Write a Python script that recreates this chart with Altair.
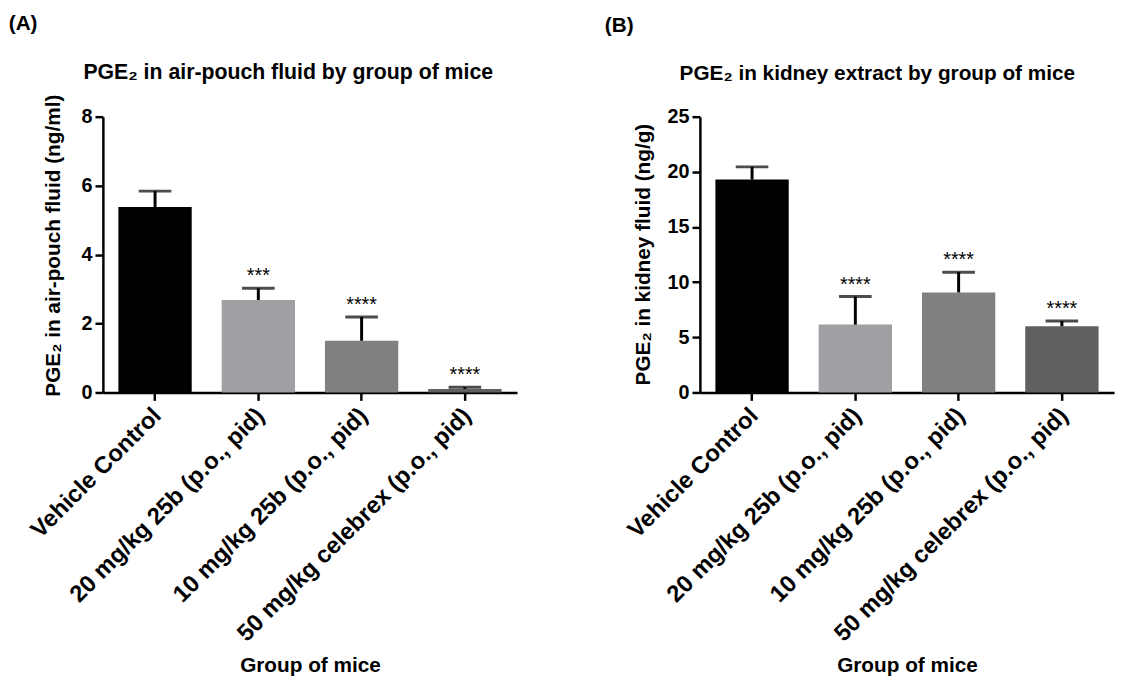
import altair as alt
import pandas as pd

groups = ["Vehicle Control", "20 mg/kg 25b (p.o., pid)", "10 mg/kg 25b (p.o., pid)", "50 mg/kg celebrex (p.o., pid)"]
bar_colors = ["#000000", "#A0A0A4", "#808080", "#606060"]

a_mean = [5.38, 2.68, 1.50, 0.10]
a_upper = [5.84, 3.02, 2.19, 0.15]
a_stars = ["", "***", "****", "****"]
a_ticks = [0, 2, 4, 6, 8]

b_mean = [19.3, 6.15, 9.07, 6.0]
b_upper = [20.45, 8.7, 10.9, 6.47]
b_stars = ["", "****", "****", "****"]
b_ticks = [0, 5, 10, 15, 20, 25]

FONT = "Liberation Sans"


def panel(mean, upper, stars, ticks, ytitle, title, label, title_dx, title_offset,
          title_size, label_dx, ytitle_y, ytitle_pad):
    df = pd.DataFrame({"group": groups, "mean": mean, "upper": upper,
                       "stars": stars, "color": bar_colors})
    base = alt.Chart(df)
    x = alt.X("group:N", sort=groups,
              scale=alt.Scale(paddingInner=0.29, paddingOuter=0.15),
              axis=alt.Axis(title="Group of mice", labelAngle=-45, labelAlign="right",
                            labelBaseline="top", labelFontSize=24, labelFontWeight="bold",
                            labelFont=FONT, labelColor="black", labelPadding=3,
                            labelOffset=-6,
                            titleFontSize=21, titleFontWeight="bold", titleFont=FONT,
                            titleColor="black", titleY=282, titleBaseline="alphabetic",
                            domainColor="black", domainWidth=2.5, tickColor="black",
                            tickWidth=2.5, tickSize=8, labelLimit=500))
    y_scale = alt.Scale(domain=[ticks[0], ticks[-1]], nice=False, zero=True)
    y_axis = alt.Axis(values=ticks, title=ytitle, labelFontSize=20, labelFontWeight="bold",
                      labelFont=FONT, labelColor="black", labelPadding=3,
                      titleFontSize=21, titleFontWeight="bold", titleFont=FONT,
                      titleColor="black", titlePadding=ytitle_pad, titleY=ytitle_y,
                      grid=False, domainColor="black", domainWidth=2.5, tickColor="black",
                      tickWidth=2.5, tickSize=8)
    bars = base.mark_bar().encode(
        x=x,
        y=alt.Y("mean:Q", scale=y_scale, axis=y_axis),
        color=alt.Color("color:N", scale=None),
    )
    err = base.mark_rule(color="black", strokeWidth=3).encode(
        x=x, y="mean:Q", y2="upper:Q")
    cap = base.mark_tick(color="black", thickness=3, size=33).encode(
        x=x, y="upper:Q")
    txt = base.mark_text(fontSize=20, font=FONT, color="black", baseline="alphabetic",
                         dy=-6).encode(x=x, y="upper:Q", text="stars:N")
    layer = alt.layer(bars, err, cap, txt).properties(
        width=419, height=279,
        title=alt.TitleParams(title, fontSize=title_size, font=FONT, fontWeight="bold",
                              color="black", anchor="middle", dx=title_dx,
                              offset=title_offset),
    )
    return alt.vconcat(layer, title=alt.TitleParams(
        label, fontSize=21, font=FONT, fontWeight="bold", color="black",
        anchor="start", dx=label_dx, offset=28))


pa = panel(a_mean, a_upper, a_stars, a_ticks, "PGE₂ in air-pouch fluid (ng/ml)",
           "PGE₂ in air-pouch fluid by group of mice", "(A)", -22, 11, 21.5, -18, 130, 18)
pb = panel(b_mean, b_upper, b_stars, b_ticks, "PGE₂ in kidney fluid (ng/g)",
           "PGE₂ in kidney extract by group of mice", "(B)", -30, 23, 21, -19, 139, 14)

chart = alt.hconcat(pa, pb, spacing=88).properties(
    padding={"left": 0, "top": 1, "right": 5, "bottom": 5}
).configure_view(stroke=None).configure_concat(spacing=88)

chart.save("out.html", embed_options={"renderer": "svg", "actions": False})
